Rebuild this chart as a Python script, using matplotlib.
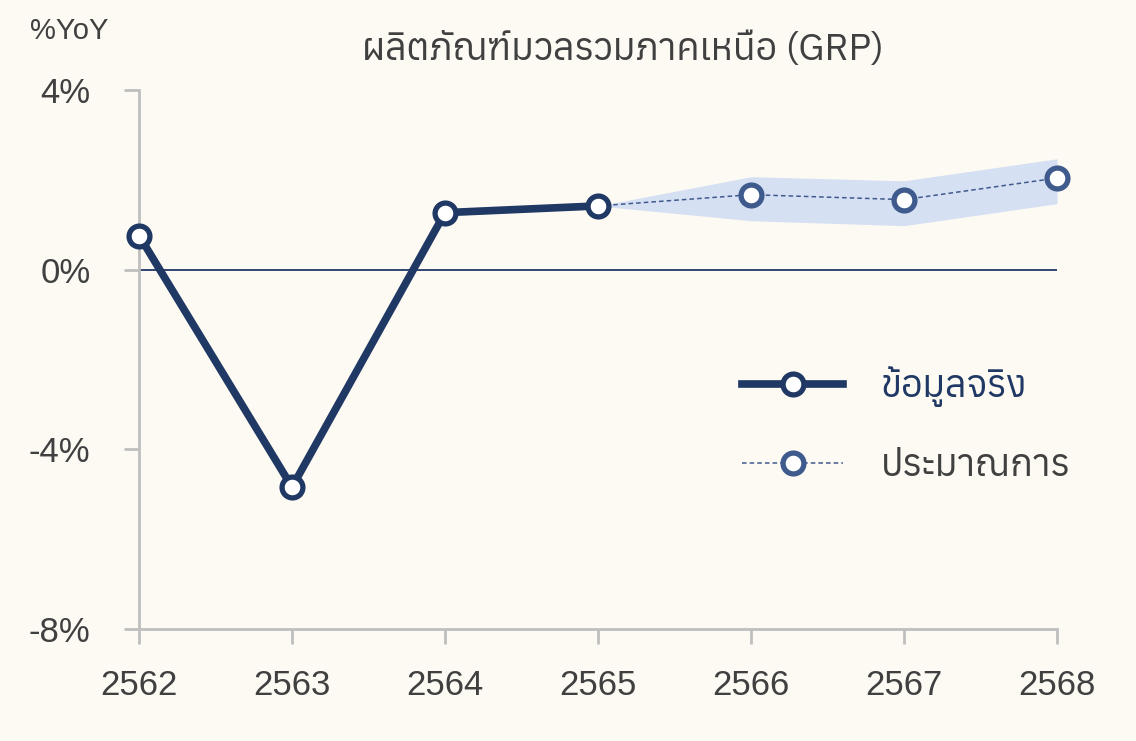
import numpy as np
import matplotlib
matplotlib.use("Agg")
import matplotlib.pyplot as plt
from matplotlib.lines import Line2D

plt.rcParams['font.family'] = ['Liberation Sans', 'Anuphan']

# actual data
years_actual = [2562, 2563, 2564, 2565]
gdp_actual = [0.76, -4.84, 1.27, 1.42]

# forecast (starts from last actual point)
years_fc = [2565, 2566, 2567, 2568]
gdp_fc = [1.42, 1.67, 1.56, 2.04]
band_low = [1.42, 1.09, 0.98, 1.47]
band_high = [1.42, 2.07, 1.98, 2.47]

xticks = [2562, 2563, 2564, 2565, 2566, 2567, 2568]
yticks = [-8, -4, 0, 4]
ytick_labels = ['-8%', '-4%', '0%', '4%']

bg = '#FDFAF4'
navy = '#1F3864'
fc_col = '#3F5A8C'
gray_txt = '#404040'
axis_gray = '#BFBFBF'

fig = plt.figure(figsize=(11.36, 7.41), dpi=100, facecolor=bg)
ax = fig.add_axes([0.1224, 0.1511, 0.8081, 0.7274], facecolor=bg)

ax.fill_between(years_fc, band_low, band_high, color='#D6E0F3', lw=0, zorder=1)
ax.axhline(0, color=navy, lw=1.3, zorder=2)

ax.plot(years_fc[1:], gdp_fc[1:], ls='none', marker='o', ms=15, mfc='white',
        mec=fc_col, mew=3.8, zorder=5, clip_on=False)
ax.plot(years_fc, gdp_fc, color=fc_col, lw=1.1, ls=(0, (3, 2)), zorder=3)
ax.plot(years_actual, gdp_actual, color=navy, lw=5.5, marker='o', ms=15,
        mfc='white', mec=navy, mew=3.8, zorder=6, clip_on=False,
        solid_joinstyle='miter')

ax.set_xlim(2562, 2568)
ax.set_ylim(-8, 4)
ax.set_xticks(xticks)
ax.set_xticklabels([str(x) for x in xticks])
ax.set_yticks(yticks)
ax.set_yticklabels(ytick_labels)

for s in ['top', 'right']:
    ax.spines[s].set_visible(False)
for s in ['left', 'bottom']:
    ax.spines[s].set_color(axis_gray)
    ax.spines[s].set_linewidth(2)
ax.spines['bottom'].set_bounds(2562, 2568)
ax.tick_params(axis='both', colors=axis_gray, width=2, length=11,
               labelsize=25, labelcolor=gray_txt)
ax.tick_params(axis='x', pad=18)
ax.tick_params(axis='y', pad=24)

fig.text(0.548, 0.933, 'ผลิตภัณฑ์มวลรวมภาคเหนือ (GRP)', ha='center', va='center',
         fontsize=27, color=gray_txt, family=['Anuphan', 'Liberation Sans'])
fig.text(0.026, 0.958, '%YoY', ha='left', va='center', fontsize=21,
         color=gray_txt)

handles = [
    Line2D([], [], color=navy, lw=5.5, marker='o', ms=15, mfc='white',
           mec=navy, mew=3.8),
    Line2D([], [], color=fc_col, lw=1.1, ls=(0, (3, 2)), marker='o', ms=15,
           mfc='white', mec=fc_col, mew=3.8),
]
leg = ax.legend(handles, ['ข้อมูลจริง', 'ประมาณการ'], loc='upper left',
                bbox_to_anchor=(0.62, 0.55), frameon=False,
                prop={'family': ['Anuphan', 'Liberation Sans'], 'size': 27},
                handlelength=2.7, handletextpad=1.0, labelspacing=1.1)
leg.get_texts()[0].set_color(navy)
leg.get_texts()[1].set_color(gray_txt)

fig.savefig('out.png', dpi=100, facecolor=bg)
